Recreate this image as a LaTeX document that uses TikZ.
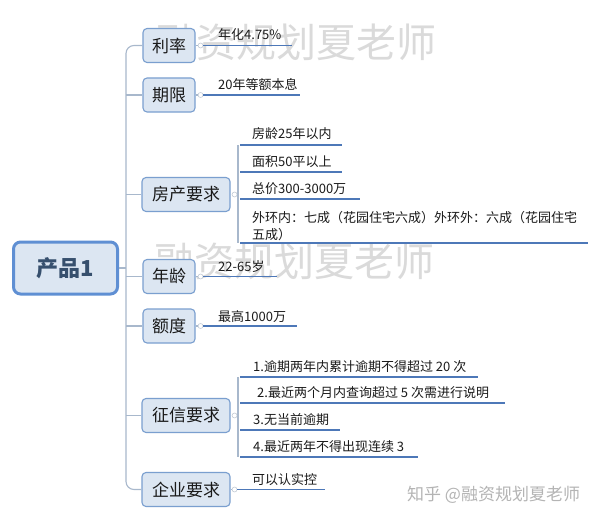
\documentclass[tikz,border=0pt]{standalone}
\usepackage{fontspec}
\setmainfont{Noto Sans CJK SC}
\definecolor{boxf}{HTML}{DCE6F2}
\definecolor{boxc}{HTML}{7A9FCF}
\definecolor{rootc}{HTML}{5F8FD3}
\definecolor{ulc}{HTML}{4D78B8}
\definecolor{connc}{HTML}{A8B8CC}
\definecolor{txt}{HTML}{1A1A1A}
\definecolor{roottxt}{HTML}{37506E}
\definecolor{wmc}{HTML}{DADADA}
\definecolor{wmc2}{HTML}{B4B4B4}
\definecolor{knobc}{HTML}{C4CCD6}
\begin{document}
\begin{tikzpicture}[x=1pt,y=-1pt,
  box/.style={draw=boxc, fill=boxf, line width=1.1pt, rounded corners=4pt, minimum height=34pt, inner xsep=0pt, font=\fontsize{17}{17}\selectfont, text=txt},
  rootbox/.style={draw=rootc, fill=boxf, line width=3pt, rounded corners=7pt, minimum width=104pt, minimum height=52pt, font=\fontsize{22}{22}\selectfont\bfseries, text=roottxt},
  leaf/.style={anchor=base west, inner sep=0pt, font=\fontsize{13}{17}\selectfont, text=txt, align=left},
  conn/.style={draw=connc, line width=1.1pt},
  uline/.style={draw=ulc, line width=1.8pt},
  knob/.style={circle, draw=knobc, fill=white, line width=0.6pt, inner sep=0pt, minimum size=5pt},
  wm/.style={text=wmc, inner sep=0pt, font=\fontsize{40}{40}\selectfont},
  wmb/.style={text=wmc2, inner sep=0pt, anchor=west, font=\fontsize{17}{17}\selectfont},
]
\useasboundingbox (0,0) rectangle (600,519);
\fill[white] (0,0) rectangle (600,519);

% watermarks (behind)
\node[wm] (wm1) at (296,42) {融资规划夏老师};
\node[wm] (wm2) at (294,261) {融资规划夏老师};

% root and branches
\node[rootbox] (root) at (65.5,268) {产品1};
\node[box, minimum width=52pt] (b1) at (169,45.5) {利率};
\node[box, minimum width=52pt] (b2) at (169,95) {期限};
\node[box, minimum width=88pt] (b3) at (186,194.5) {房产要求};
\node[box, minimum width=52pt] (b4) at (169,276.5) {年龄};
\node[box, minimum width=52pt] (b5) at (169,326) {额度};
\node[box, minimum width=88pt] (b6) at (186,415.5) {征信要求};
\node[box, minimum width=88pt] (b7) at (186,489.5) {企业要求};

% trunk
\coordinate (tx) at (126,0);
\draw[conn] (root.east) -- (root.east -| tx);
\draw[conn, rounded corners=8pt] (b1.west) -- (b1.west -| tx) -- (b7.west -| tx) -- (b7.west);
\foreach \b in {b2,b3,b4,b5,b6} \draw[conn] (\b.west -| tx) -- (\b.west);

% knobs
\node[knob] (k1) at ([xshift=5pt]b1.east) {};
\node[knob] (k2) at ([xshift=5pt]b2.east) {};
\node[knob] (k3) at ([xshift=4pt]b3.east) {};
\node[knob] (k4) at ([xshift=5pt]b4.east) {};
\node[knob] (k5) at ([xshift=5pt]b5.east) {};
\node[knob] (k6) at ([xshift=4pt]b6.east) {};
\node[knob] (k7) at ([xshift=4pt]b7.east) {};

% simple leaves
\coordinate (e1) at (292,46);
\coordinate (e2) at (300,96);
\coordinate (e4) at (277,277);
\coordinate (e5) at (297,327);
\coordinate (e7) at (325,490);
\draw[conn] (b1.east) -- (k1.west);
\draw[conn] (b2.east) -- (k2.west);
\draw[conn] (b4.east) -- (k4.west);
\draw[conn] (b5.east) -- (k5.west);
\draw[conn] (b7.east) -- (k7.west);
\draw[uline] (k1.east) -- (k1.east -| e1);
\draw[uline] (k2.east) -- (k2.east -| e2);
\draw[uline] (k4.east) -- (k4.east -| e4);
\draw[uline] (k5.east) -- (k5.east -| e5);
\draw[uline] (k7.east) -- (k7.east -| e7);
\node[leaf] (l1) at (218,40) {年化4.75\%};
\node[leaf] (l2) at (218,90) {20年等额本息};
\node[leaf] (l4) at (218,271) {22-65岁};
\node[leaf] (l5) at (218,321) {最高1000万};
\node[leaf] (l7) at (252,484) {可以认实控};

% house sub-branch
\coordinate (sx) at (238,0);
\coordinate (h1) at (342,145);
\coordinate (h2) at (342,172);
\coordinate (h3) at (360,199);
\coordinate (h4) at (588,243);
\draw[conn] (k3.east) -- (k3.east -| sx);
\draw[conn] (h1 -| sx) -- (h4 -| sx);
\foreach \h in {h1,h2,h3,h4} \draw[uline] ([xshift=2pt]\h -| sx) -- (\h);
\node[leaf] (lh1) at (252,139) {房龄25年以内};
\node[leaf] (lh2) at (252,166) {面积50平以上};
\node[leaf] (lh3) at (252,193) {总价300-3000万};
\node[leaf, anchor=south west] (lh4) at (252,240.5) {外环内：七成（花园住宅六成）外环外：六成（花园住宅\\五成）};

% credit sub-branch
\coordinate (c1) at (478,377);
\coordinate (c2) at (505,403);
\coordinate (c3) at (340,430);
\coordinate (c4) at (418,457);
\draw[conn] (k6.east) -- (k6.east -| sx);
\draw[conn] (c1 -| sx) -- (c4 -| sx);
\foreach \c in {c1,c2,c3,c4} \draw[uline] ([xshift=2pt]\c -| sx) -- (\c);
\node[leaf] (lc1) at (253,371) {1.逾期两年内累计逾期不得超过 20 次};
\node[leaf] (lc2) at (257,397) {2.最近两个月内查询超过 5 次需进行说明};
\node[leaf] (lc3) at (253,424) {3.无当前逾期};
\node[leaf] (lc4) at (253,451) {4.最近两年不得出现连续 3};

% bottom watermark
\node[wmb] (wm3) at (407,495) {知乎 @融资规划夏老师};
\end{tikzpicture}
\end{document}
